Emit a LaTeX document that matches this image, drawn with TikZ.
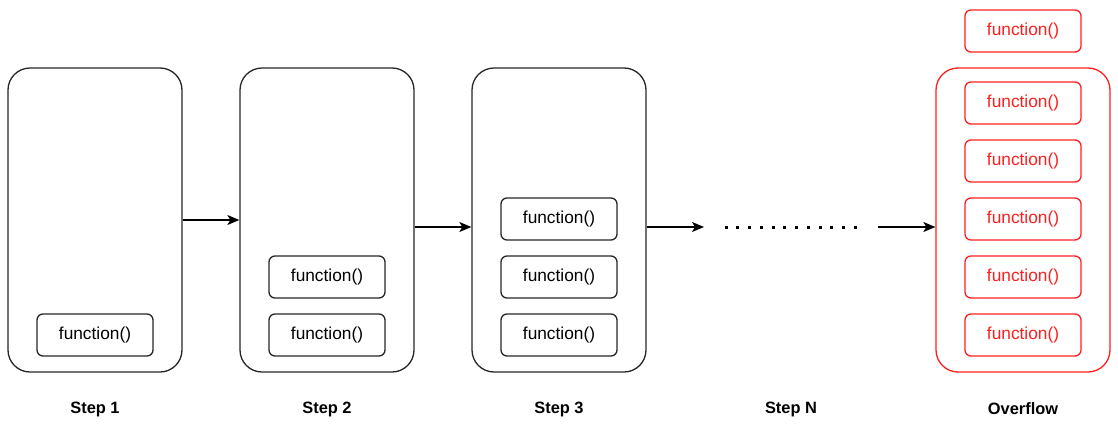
\documentclass[tikz,border=0pt]{standalone}
\usepackage{fontspec}
\setmainfont{Liberation Sans}
\usetikzlibrary{arrows.meta}

\definecolor{ovred}{RGB}{255,30,30}

\begin{document}
\begin{tikzpicture}[x=1pt, y=-1pt, >={Stealth[length=12pt, width=10pt, inset=3pt]},
    font=\fontsize{17.3}{20}\selectfont]
  \tikzstyle{stage} = [draw=black!85, line width=1.3pt, rounded corners=22pt,
                       minimum width=174pt, minimum height=304pt]
  \tikzstyle{fn} = [draw=black!85, line width=1.3pt, rounded corners=6pt,
                    minimum width=116pt, minimum height=42pt, inner sep=0pt,
                    text height=12.5pt, text depth=3pt]
  \tikzstyle{lbl} = [font=\fontsize{16.4}{20}\selectfont\bfseries]
  \tikzstyle{link} = [->, line width=1.3pt]

  \useasboundingbox (0,0) rectangle (1118,428);

  \node[stage] (s1) at (95,220)  {};
  \node[stage] (s2) at (327,220) {};
  \node[stage] (s3) at (559,220) {};
  \node[stage, draw=ovred] (ov) at (1023,220) {};

  \node[fn] (f11) at (95,335)  {function()};
  \node[fn] (f21) at (327,277) {function()};
  \node[fn] (f22) at (327,335) {function()};
  \node[fn] (f31) at (559,219) {function()};
  \node[fn] (f32) at (559,277) {function()};
  \node[fn] (f33) at (559,335) {function()};

  % overflow stack
  \foreach \y [count=\i] in {31,103,161,219,277,335}
    \node[fn, draw=ovred, text=ovred] (fo\i) at (1023,\y) {function()};

  \coordinate (d1) at (704,227);
  \coordinate (d2) at (878,227);

  \draw[link] (s1.east) -- (s2.west);
  \draw[link] ([yshift=-7pt]s2.east) -- ([yshift=-7pt]s3.west);
  \draw[link] ([yshift=-7pt]s3.east) -- (d1);
  \draw[line width=3pt, dash pattern=on 3pt off 8.75pt] ([xshift=20.5pt]d1) -- ([xshift=-21pt]d2);
  \draw[link] (d2) -- ([yshift=-7pt]ov.west);

  \node[lbl] (l1) at (95,409)   {Step 1};
  \node[lbl] (l2) at (327,409)  {Step 2};
  \node[lbl] (l3) at (559,409)  {Step 3};
  \node[lbl] (ln) at (791,409)  {Step N};
  \node[lbl] (lo) at (1023,409) {Overflow};
\end{tikzpicture}
\end{document}
